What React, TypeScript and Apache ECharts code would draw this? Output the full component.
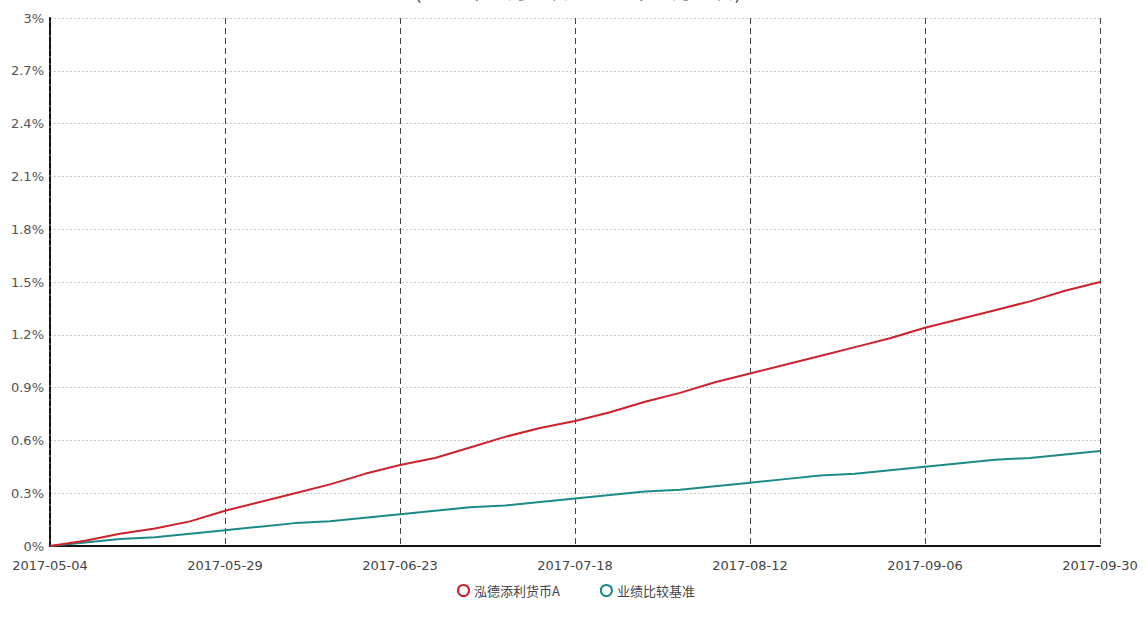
import React, { useEffect, useRef } from "react";
import * as echarts from "echarts";

const dates = [
  "2017-05-04", "2017-05-09", "2017-05-14", "2017-05-19", "2017-05-24",
  "2017-05-29", "2017-06-03", "2017-06-08", "2017-06-13", "2017-06-18",
  "2017-06-23", "2017-06-28", "2017-07-03", "2017-07-08", "2017-07-13",
  "2017-07-18", "2017-07-23", "2017-07-28", "2017-08-02", "2017-08-07",
  "2017-08-12", "2017-08-17", "2017-08-22", "2017-08-27", "2017-09-01",
  "2017-09-06", "2017-09-11", "2017-09-16", "2017-09-21", "2017-09-26",
  "2017-09-30",
];

const fundValues = [
  0.0, 0.03, 0.07, 0.1, 0.14, 0.2, 0.25, 0.3, 0.35, 0.41,
  0.46, 0.5, 0.56, 0.62, 0.67, 0.71, 0.76, 0.82, 0.87, 0.93,
  0.98, 1.03, 1.08, 1.13, 1.18, 1.24, 1.29, 1.34, 1.39, 1.45,
  1.5,
];

const benchValues = [
  0.0, 0.02, 0.04, 0.05, 0.07, 0.09, 0.11, 0.13, 0.14, 0.16,
  0.18, 0.2, 0.22, 0.23, 0.25, 0.27, 0.29, 0.31, 0.32, 0.34,
  0.36, 0.38, 0.4, 0.41, 0.43, 0.45, 0.47, 0.49, 0.5, 0.52,
  0.54,
];

const seriesNames = ["泓德添利货币A", "业绩比较基准"];
const titleText = "(2017年05月04日 - 2017年09月30日)";

export default function App() {
  const ref = useRef<HTMLDivElement>(null);
  useEffect(() => {
    document.body.style.margin = "0";
    if (!ref.current) return;
    const chart = echarts.init(ref.current, null, { renderer: "svg" });
    const showEvery = (i: number) => i % 5 === 0;
    chart.setOption({
      animation: false,
      backgroundColor: "#ffffff",
      textStyle: { fontFamily: "'Noto Sans CJK SC', 'DejaVu Sans', sans-serif" },
      graphic: [
        {
          type: "text",
          x: 578,
          y: 0,
          style: {
            text: titleText,
            fontSize: 20,
            fill: "#444",
            align: "center",
            verticalAlign: "bottom",
            fontFamily: "'Noto Sans CJK SC', sans-serif",
          },
        },
      ],
      grid: { left: 50, right: 47, top: 18, bottom: 83, containLabel: false },
      legend: {
        data: seriesNames,
        top: 579,
        left: 452,
        icon: "emptyCircle",
        itemWidth: 11,
        itemHeight: 11,
        itemGap: 40,
        textStyle: { color: "#444", fontSize: 13 },
      },
      xAxis: {
        type: "category",
        data: dates,
        boundaryGap: false,
        axisLine: { show: true, lineStyle: { color: "#111", width: 2 } },
        axisTick: { show: false },
        axisLabel: {
          interval: (i: number) => showEvery(i),
          color: "#444",
          fontSize: 13,
          margin: 13,
          fontFamily: "'DejaVu Sans', sans-serif",
        },
        splitLine: {
          show: true,
          interval: (i: number) => showEvery(i),
          lineStyle: { color: "#444", type: [6, 4], width: 1 },
        },
      },
      yAxis: {
        type: "value",
        min: 0,
        max: 3,
        interval: 0.3,
        axisLine: { show: true, lineStyle: { color: "#111", type: [5, 2], width: 2 } },
        axisTick: { show: false },
        axisLabel: {
          color: "#555",
          fontSize: 13,
          margin: 6,
          fontFamily: "'DejaVu Sans', sans-serif",
          formatter: (v: number) => `${+v.toFixed(1)}%`,
        },
        splitLine: {
          show: true,
          lineStyle: { color: "#c8c8c8", type: [2, 2], width: 1 },
        },
      },
      series: [
        {
          name: seriesNames[0],
          type: "line",
          data: fundValues,
          symbol: "emptyCircle",
          showSymbol: false,
          lineStyle: { color: "#cc2229", width: 2 },
          itemStyle: { color: "#cc2229" },
          z: 3,
        },
        {
          name: seriesNames[1],
          type: "line",
          data: benchValues,
          symbol: "emptyCircle",
          showSymbol: false,
          lineStyle: { color: "#1d8a8a", width: 2 },
          itemStyle: { color: "#1d8a8a" },
          z: 2,
        },
      ],
    });
    return () => chart.dispose();
  }, []);
  return (
    <div
      ref={ref}
      style={{ position: "fixed", left: 0, top: 0, width: 1147, height: 629 }}
    />
  );
}
